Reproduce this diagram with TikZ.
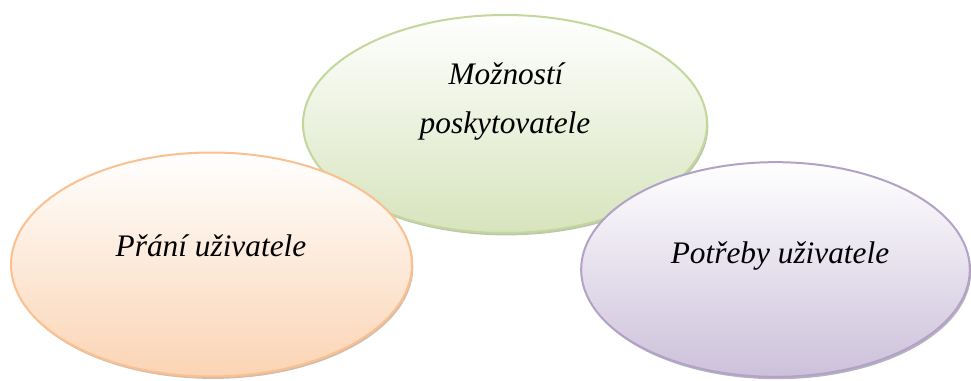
\documentclass[tikz,border=0pt]{standalone}
\usepackage{fontspec}
\setmainfont{Liberation Serif}
\usetikzlibrary{shapes.geometric,shadows}
\definecolor{greenline}{HTML}{C3D69B}
\definecolor{greenfill}{HTML}{D7E4BD}
\definecolor{orangeline}{HTML}{FAC090}
\definecolor{orangefill}{HTML}{FBD4B4}
\definecolor{purpleline}{HTML}{B3A2C7}
\definecolor{purplefill}{HTML}{CCC1DA}

\begin{document}
\begin{tikzpicture}[x=0.75pt, y=-0.75pt, font=\fontsize{23.5}{36}\selectfont\itshape,
	oval/.style={ellipse, line width=1.5pt, inner sep=0pt},
	label text/.style={anchor=base, align=center}]
	\useasboundingbox (0,0) rectangle (971,381);
	\node[oval, draw=greenline, top color=white, bottom color=greenfill, minimum width=303pt, minimum height=163.5pt,
	  drop shadow={fill=greenline!70!black, opacity=.55, shadow xshift=1pt, shadow yshift=-1.8pt}] (moznosti) at (505,124) {};
	\node[oval, draw=orangeline, top color=white, bottom color=orangefill, minimum width=300.75pt, minimum height=168pt,
	  drop shadow={fill=orangeline!70!black, opacity=.55, shadow xshift=1pt, shadow yshift=-1.8pt}] (prani) at (211.5,264.5) {};
	\node[oval, draw=purpleline, top color=white, bottom color=purplefill, minimum width=291.5pt, minimum height=161pt,
	  drop shadow={fill=purpleline!70!black, opacity=.55, shadow xshift=1pt, shadow yshift=-1.8pt}] (potreby) at (775.5,269.5) {};
	\node[label text] (moznostitext) at (506,85) {Možností};
	\node[label text] (poskytovatel) at (505,134) {poskytovatele};
	\node[label text] (pranitext) at (211,256) {Přání uživatele};
	\node[label text] (potrebytext) at (780,263) {Potřeby uživatele};
\end{tikzpicture}
\end{document}
